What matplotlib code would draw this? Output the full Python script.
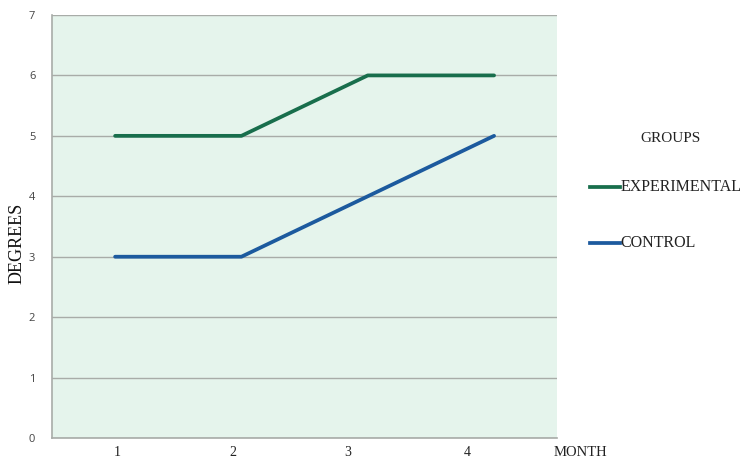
import matplotlib
matplotlib.use("Agg")
import matplotlib.pyplot as plt
from matplotlib.lines import Line2D

months = [1, 2, 3, 4]
experimental = [5, 5, 6, 6]
control = [3, 3, 4, 5]
month_labels = ["1", "2", "3", "4"]
# tick labels in the original sit slightly off the data points
month_tick_pos = [1.02, 1.93, 2.84, 3.79]

green = "#186e4c"
blue = "#1c5a9e"
serif = "Liberation Serif"

fig = plt.figure(figsize=(7.53, 4.68), dpi=100)
ax = fig.add_axes([0.069, 0.064, 0.671, 0.904])
ax.set_facecolor("#e5f4ec")

ax.plot(months, experimental, color=green, linewidth=2.7, solid_capstyle="round")
ax.plot(months, control, color=blue, linewidth=2.7, solid_capstyle="round")

ax.set_xlim(0.5, 4.5)
ax.set_ylim(0, 7)
ax.set_yticks(range(0, 8))
ax.yaxis.grid(True, color="#a8aca8", linewidth=1.0)
ax.set_axisbelow(True)

ax.set_xticks(month_tick_pos)
ax.set_xticklabels(month_labels, family=serif, fontsize=10, color="#222222")
for lbl in ax.get_yticklabels():
    lbl.set_family("Open Sans")
    lbl.set_fontsize(8)
    lbl.set_color("#444444")
ax.tick_params(length=0, pad=12)
ax.tick_params(axis="x", pad=6)

for s in ["top", "right"]:
    ax.spines[s].set_visible(False)
for s in ["left", "bottom"]:
    ax.spines[s].set_color("#a8aca8")
    ax.spines[s].set_linewidth(1.2)

fig.text(0.022, 0.48, "DEGREES", rotation=90, family=serif, fontsize=13,
         ha="center", va="center", color="#111111")
fig.text(0.771, 0.034, "MONTH", family=serif, fontsize=10.5, ha="center",
         va="center", color="#222222")

# legend drawn by hand to mimic the original layout
fig.text(0.890, 0.705, "GROUPS", family=serif, fontsize=11, ha="center",
         va="center", color="#222222")
for y, c, name in [(0.600, green, "EXPERIMENTAL"), (0.480, blue, "CONTROL")]:
    fig.add_artist(Line2D([0.784, 0.824], [y, y], color=c, linewidth=2.7,
                          transform=fig.transFigure))
    fig.text(0.824, y, name, family=serif, fontsize=11.5, ha="left",
             va="center", color="#222222")

fig.savefig("out.png", dpi=100)
